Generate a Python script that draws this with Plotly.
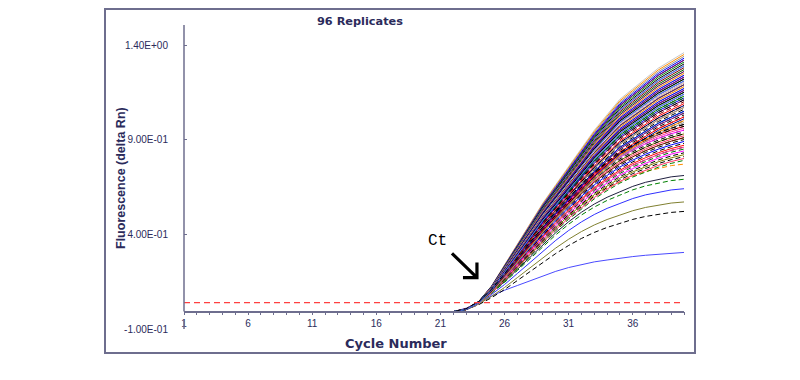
import plotly.graph_objects as go

# ---------------- data ----------------
cycles = list(range(1, 41))
baseline = -0.008
threshold = 0.040

# normalised amplification profiles (fraction of cycle-40 value), cycles 1..40
profile_fast = [0.0] * 22 + [0.01, 0.04, 0.10, 0.18, 0.26, 0.34, 0.42, 0.49, 0.56,
                             0.63, 0.70, 0.76, 0.82, 0.86, 0.90, 0.94, 0.97, 1.00]
profile_mid = [0.0] * 22 + [0.015, 0.055, 0.12, 0.20, 0.285, 0.37, 0.455, 0.535, 0.61,
                            0.68, 0.745, 0.80, 0.85, 0.89, 0.925, 0.955, 0.98, 1.00]
profile_slow = [0.0] * 22 + [0.02, 0.07, 0.14, 0.22, 0.31, 0.40, 0.49, 0.58, 0.66,
                             0.73, 0.79, 0.84, 0.88, 0.92, 0.95, 0.97, 0.99, 1.00]
# the one low outlier replicate (absolute delta Rn)
outlier_values = [baseline] * 22 + [0.01, 0.04, 0.075, 0.105, 0.13, 0.155, 0.18, 0.205, 0.225,
                                    0.24, 0.255, 0.265, 0.275, 0.283, 0.29, 0.296, 0.301, 0.305]

# delta Rn reached at cycle 40 by each of the other 95 replicates
plateaus_high = [1.37, 1.36, 1.35, 1.34, 1.33, 1.33, 1.32, 1.31, 1.30, 1.30,
                 1.29, 1.28, 1.28, 1.27, 1.27, 1.26, 1.26, 1.25, 1.25, 1.24,
                 1.24, 1.23, 1.23, 1.22, 1.22, 1.21, 1.21, 1.20, 1.20, 1.20,
                 1.19, 1.19, 1.18, 1.18, 1.17, 1.17, 1.16, 1.16, 1.15, 1.15]
plateaus_mid = [1.14, 1.14, 1.13, 1.13, 1.12, 1.12, 1.11, 1.10,
                1.09, 1.09, 1.08, 1.08, 1.07, 1.06, 1.06, 1.05, 1.05, 1.04,
                1.03, 1.03, 1.02, 1.01, 1.01, 1.00]
plateaus_lower = [0.99, 0.98, 0.98, 0.97, 0.96, 0.96, 0.95, 0.94, 0.94, 0.93,
                  0.92, 0.92, 0.91, 0.90, 0.89, 0.88, 0.87, 0.87, 0.86, 0.85,
                  0.84, 0.83, 0.82, 0.81, 0.80]
plateaus_low = [0.78, 0.72, 0.70, 0.65, 0.58, 0.53]

x_tick_vals = cycles
x_tick_text = ["1", "", "", "", "", "6", "", "", "", "", "11", "", "", "", "", "16", "", "", "", "",
               "21", "", "", "", "", "26", "", "", "", "", "31", "", "", "", "", "36", "", "", "", ""]
y_tick_vals = [1.4, 0.9, 0.4, -0.1]
y_tick_text = ["1.40E+00", "9.00E-01", "4.00E-01", "-1.00E-01"]

# ---------------- styles ----------------
DASH = "5px,3px"
styles_high = [("#c8c8c8", "solid"), ("#ff8c00", "solid"), ("#909090", "solid"), ("#0000ff", "solid"),
               ("#000080", "solid"), ("#800080", "solid"), ("#008000", "solid"), ("#000000", "solid"),
               ("#008080", "solid"), ("#6060ff", "solid"), ("#800000", "solid"), ("#e4e4e4", "solid"),
               ("#006400", "solid"), ("#ff00ff", "solid"), ("#404040", "solid")]
styles_mid = [("#000000", DASH), ("#008000", "solid"), ("#0000ff", "solid"), ("#006400", DASH),
              ("#800080", "solid"), ("#000000", DASH), ("#800000", DASH), ("#ff0000", "solid"),
              ("#000080", "solid"), ("#000000", DASH), ("#ff8c00", "solid"), ("#909090", "solid")]
styles_lower = [("#000000", DASH), ("#ff0000", "solid"), ("#000000", DASH), ("#ff3399", "solid"),
                ("#006400", DASH), ("#ff00ff", "solid"), ("#000000", DASH), ("#808000", "solid"),
                ("#000000", DASH), ("#ff3366", "solid"), ("#008000", DASH), ("#800000", "solid"),
                ("#000000", DASH), ("#0000ff", "solid")]
styles_low = [("#ff8c00", DASH), ("#202040", "solid"), ("#008000", DASH),
              ("#3030ff", "solid"), ("#808030", "solid"), ("#000000", DASH)]
axis_color = "#6e6e8e"
text_color = "#2b2b5b"

fig = go.Figure()


def add_curve(values, color, dash):
    fig.add_trace(go.Scatter(x=cycles, y=values, mode="lines",
                             line=dict(color=color, width=1, dash=dash), hoverinfo="skip"))


add_curve(outlier_values, "#4a4aff", "solid")
for i, p in enumerate(plateaus_low):
    c, d = styles_low[i]
    add_curve([baseline + p * f for f in profile_slow], c, d)
for i, p in enumerate(plateaus_lower):
    c, d = styles_lower[i % len(styles_lower)]
    add_curve([baseline + p * f for f in profile_mid], c, d)
for i, p in enumerate(plateaus_mid):
    c, d = styles_mid[i % len(styles_mid)]
    add_curve([baseline + p * f for f in profile_fast], c, d)
for i, p in enumerate(plateaus_high):
    c, d = styles_high[i % len(styles_high)]
    add_curve([baseline + p * f for f in profile_fast], c, d)
# a black dashed replicate drawn last (it dominates the baseline)
add_curve([baseline + plateaus_lower[0] * f for f in profile_mid], "#000000", DASH)

# threshold line
fig.add_trace(go.Scatter(x=[cycles[0], cycles[-1]], y=[threshold, threshold], mode="lines",
                         line=dict(color="#ff4040", width=1.3, dash="6px,4px"), hoverinfo="skip"))

# page body has an 8px margin: work in screen pixels and subtract it
OFF = 8
W, H = 800, 380
L, T = 184 - OFF, 25 - OFF
R = W - (684 - OFF)
B = H - (329 - OFF)
pw, ph = W - L - R, H - T - B


def px_x(px):
    return (px - OFF - L) / pw


def px_y(py):
    return (H - B - (py - OFF)) / ph


y_top = 1.508
x_axis_pos = (baseline + 0.1) / (y_top + 0.1)

shapes = [
    dict(type="rect", xref="paper", yref="paper", x0=px_x(105), x1=px_x(695),
         y0=px_y(353), y1=px_y(9), line=dict(color=axis_color, width=2), layer="below"),
    dict(type="line", xref="paper", yref="y", x0=0, x1=0, y0=baseline, y1=y_top,
         line=dict(color=axis_color, width=1.5)),
    dict(type="line", xref="paper", yref="y", x0=0, x1=0, y0=-0.055, y1=-0.1,
         line=dict(color=axis_color, width=1.5)),
    dict(type="path", xref="x", yref="y",
         path="M 21.9 0.30 L 23.85 0.172 M 23.85 0.252 L 23.85 0.172 L 22.76 0.172",
         line=dict(color="#000000", width=3.2)),
]

annotations = [
    dict(text="<b>96 Replicates</b>", xref="paper", yref="paper", x=px_x(360), y=px_y(21),
         xanchor="center", yanchor="middle", showarrow=False,
         font=dict(family="DejaVu Sans", size=11.3, color=text_color)),
    dict(text="<b>Fluorescence (delta Rn)</b>", xref="paper", yref="paper", x=px_x(121), y=px_y(178),
         xanchor="center", yanchor="middle", showarrow=False, textangle=-90,
         font=dict(family="Liberation Sans", size=12.5, color=text_color)),
    dict(text="<b>Cycle Number</b>", xref="paper", yref="paper", x=px_x(396), y=px_y(343),
         xanchor="center", yanchor="middle", showarrow=False,
         font=dict(family="DejaVu Sans", size=13, color=text_color)),
    dict(text="Ct", xref="x", yref="y", x=20.8, y=0.363, xanchor="center", yanchor="middle",
         showarrow=False, font=dict(family="Liberation Mono", size=16, color="#000000")),
]

fig.update_layout(
    width=W, height=H,
    margin=dict(l=L, r=R, t=T, b=B),
    paper_bgcolor="white", plot_bgcolor="white",
    showlegend=False,
    shapes=shapes, annotations=annotations,
    xaxis=dict(range=[1, 40], tickvals=x_tick_vals, ticktext=x_tick_text,
               anchor="free", position=x_axis_pos,
               showline=True, linecolor=axis_color, linewidth=1.5,
               ticks="outside", ticklen=3, tickcolor=axis_color, showgrid=False, zeroline=False,
               tickfont=dict(family="Liberation Sans", size=10, color=text_color)),
    yaxis=dict(range=[-0.1, y_top], tickvals=y_tick_vals, ticktext=y_tick_text,
               showline=False, ticks="inside", ticklen=3, tickcolor=axis_color,
               showgrid=False, zeroline=False, ticklabelstandoff=15,
               tickfont=dict(family="Liberation Sans", size=10, color=text_color)),
)

fig.write_html("out.html")
